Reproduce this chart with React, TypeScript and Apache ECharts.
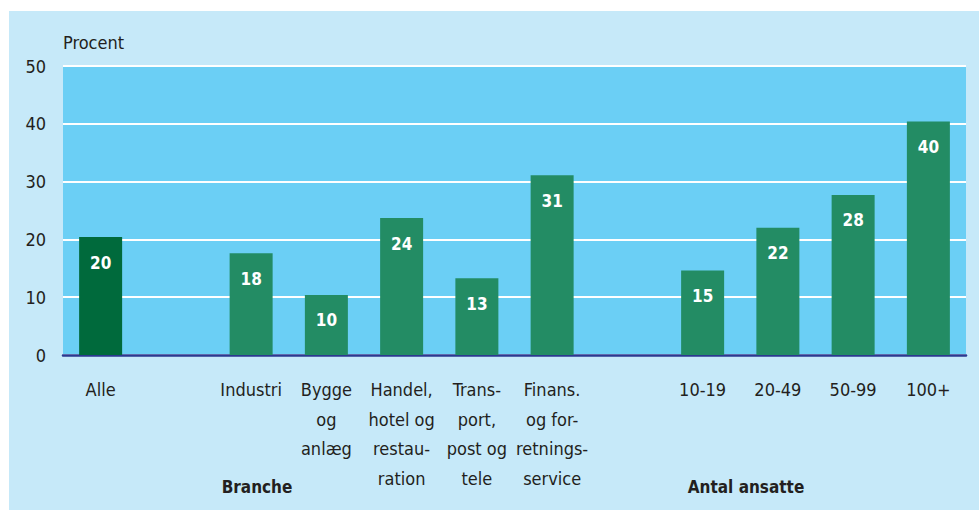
import React, { useEffect, useRef } from "react";
import * as echarts from "echarts";

const categories = [
  "Alle",
  " ",
  "Industri",
  "Bygge\nog\nanlæg",
  "Handel,\nhotel og\nrestau-\nration",
  "Trans-\nport,\npost og\ntele",
  "Finans.\nog for-\nretnings-\nservice",
  "  ",
  "10-19",
  "20-49",
  "50-99",
  "100+",
];
const values: (number | null)[] = [20.4, null, 17.6, 10.4, 23.7, 13.3, 31.1, null, 14.6, 22.0, 27.7, 40.4];
const yTicks = [0, 10, 20, 30, 40, 50];
const groupLabels = ["Branche", "Antal ansatte"];

const FONT = "'DejaVu Sans Condensed', 'Liberation Sans Narrow', 'Open Sans', sans-serif";

export default function App() {
  const ref = useRef<HTMLDivElement>(null);
  useEffect(() => {
    if (!ref.current) return;
    const chart = echarts.init(ref.current, undefined, { renderer: "svg" });
    chart.setOption({
      animation: false,
      textStyle: { fontFamily: FONT },
      graphic: [
        {
          type: "rect",
          z: -10,
          silent: true,
          shape: { x: 9, y: 11, width: 970, height: 499 },
          style: { fill: "#c6e9f9" },
        },
        {
          type: "text",
          x: 63,
          y: 42,
          style: {
            text: "Procent",
            fontSize: 18,
            fill: "#231f20",
            fontFamily: FONT,
            verticalAlign: "middle",
          },
        },
        {
          type: "text",
          x: 257,
          y: 487,
          style: {
            text: groupLabels[0],
            fontSize: 17,
            fontWeight: "bold",
            fill: "#231f20",
            fontFamily: FONT,
            align: "center",
            verticalAlign: "middle",
          },
        },
        {
          type: "text",
          x: 746,
          y: 487,
          style: {
            text: groupLabels[1],
            fontSize: 17,
            fontWeight: "bold",
            fill: "#231f20",
            fontFamily: FONT,
            align: "center",
            verticalAlign: "middle",
          },
        },
      ],
      grid: {
        left: 63,
        right: 13,
        top: 66,
        bottom: 155,
        show: true,
        backgroundColor: "#6bcff5",
        borderWidth: 0,
      },
      xAxis: {
        type: "category",
        data: categories,
        axisTick: { show: false },
        axisLine: { show: true, lineStyle: { color: "#2b3990", width: 2.5 } },
        axisLabel: {
          interval: 0,
          color: "#231f20",
          fontSize: 18,
          lineHeight: 29.5,
          margin: 20,
          fontFamily: FONT,
          verticalAlign: "top",
        },
      },
      yAxis: {
        type: "value",
        min: yTicks[0],
        max: yTicks[yTicks.length - 1],
        interval: 10,
        axisLine: { show: false },
        axisTick: { show: false },
        splitLine: { lineStyle: { color: "#ffffff", width: 2 } },
        axisLabel: { color: "#231f20", fontSize: 18, margin: 17, fontFamily: FONT },
      },
      series: [
        {
          type: "bar",
          barWidth: 43,
          data: values.map((v, i) =>
            v === null
              ? null
              : { value: v, itemStyle: { color: i === 0 ? "#006a3c" : "#238c64" } }
          ),
          label: {
            show: true,
            position: "insideTop",
            distance: 17,
            color: "#ffffff",
            fontSize: 17,
            fontWeight: "bold",
            fontFamily: FONT,
            formatter: (p: any) => String(Math.round(p.value)),
          },
        },
      ],
    });
    return () => chart.dispose();
  }, []);
  return (
    <div
      ref={ref}
      style={{ position: "fixed", left: 0, top: 0, width: 979, height: 510, background: "#ffffff" }}
    />
  );
}
